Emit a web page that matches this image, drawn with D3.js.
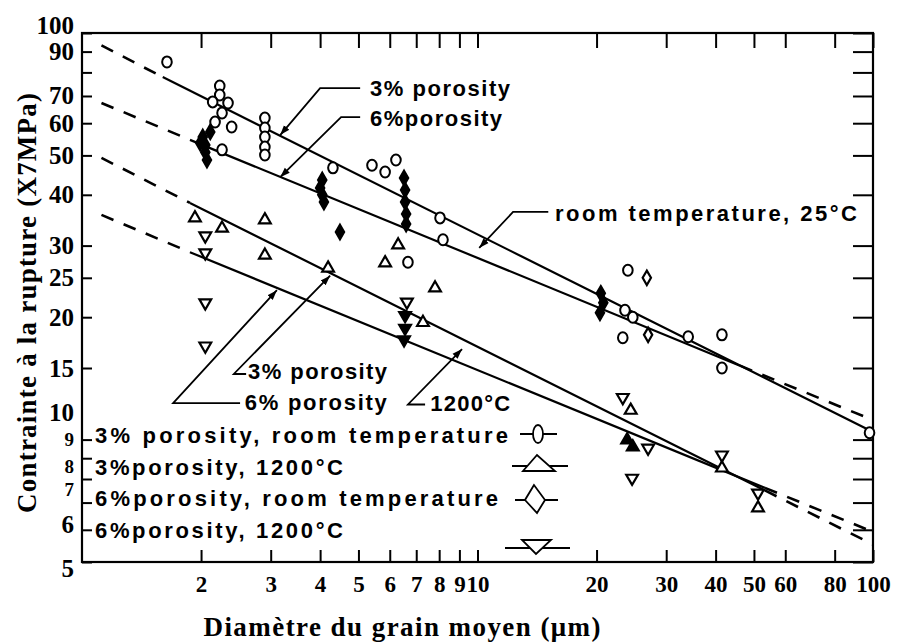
<!DOCTYPE html>
<html>
<head>
<meta charset="utf-8">
<title>Contrainte à la rupture / diamètre du grain</title>
<script src="https://cdn.jsdelivr.net/npm/d3@7/dist/d3.min.js"></script>
<style>
  body { margin: 0; background: #fff; }
  svg { display: block; }
  .tick text { font-family: "Liberation Serif", "Times New Roman", serif; font-weight: bold; fill: #000; }
  .tick line { stroke: #000; stroke-width: 2; }
  .note { font-family: "Liberation Sans", Arial, sans-serif; font-weight: bold; font-size: 22px; fill: #000; }
  .title { font-family: "Liberation Serif", "Times New Roman", serif; font-weight: bold; font-size: 27px; fill: #000; }
</style>
</head>
<body>
<script>
// Grain diameter (um) on x, rupture stress (x7 MPa) on y, both on log scales.
var xTicks = [2, 3, 4, 5, 6, 7, 8, 9, 10, 20, 30, 40, 50, 60, 80, 100];
var xTickLabels = [2, 3, 4, 5, 6, 7, 8, 9, 10, 20, 30, 40, 50, 60, 80, 100];
var yTicks = [100, 90, 80, 70, 60, 50, 40, 30, 25, 20, 15, 10, 9, 8, 7, 6, 5];
var yTickLabels = [100, 90, 70, 60, 50, 40, 30, 25, 20, 15, 10, 9, 8, 7, 6, 5];

// 3% porosity, room temperature (open circles)
var rt3Points = [[1.64, 84.9], [2.23, 74.1], [2.23, 70.4], [2.14, 67.7], [2.34, 67.3],
    [2.26, 63.6], [2.17, 60.4], [2.39, 58.7], [2.26, 51.6], [2.90, 61.8], [2.90, 58.4],
    [2.90, 55.5], [2.90, 52.4], [2.90, 50.1], [4.31, 46.6], [5.41, 47.3], [5.84, 45.5],
    [6.22, 48.7], [8.04, 35.1], [8.18, 31.0], [6.67, 27.3], [24.0, 26.1], [23.6, 20.8],
    [24.7, 20.0], [23.3, 17.8], [34.1, 17.9], [41.5, 18.1], [41.5, 15.0], [98, 10.4]];
// 6% porosity, room temperature (diamonds); the stack ones sit on top of each other
var rt6Points = [[26.8, 25.0], [27.0, 18.1]];
var rt6Stack = [[2.02, 55.5], [2.05, 53.0], [2.05, 50.9], [2.07, 48.7], [1.99, 53.6],
    [2.11, 57.1], [4.05, 43.5], [4.00, 41.6], [4.05, 40.0], [4.09, 38.4], [4.49, 32.4],
    [6.52, 44.0], [6.56, 41.1], [6.56, 38.4], [6.60, 35.9], [6.60, 33.9],
    [20.5, 22.9], [20.8, 21.7], [20.4, 20.5]];
// 3% porosity, 1200°C (triangles)
var t3Points = [[1.93, 35.1], [2.26, 33.1], [2.90, 34.7], [2.90, 28.4], [4.19, 26.4],
    [6.30, 30.1], [5.84, 27.2], [7.81, 23.6], [7.28, 19.4], [24.4, 11.8], [41.5, 8.51],
    [51.2, 6.79]];
var t3Stack = [[23.9, 9.98], [24.7, 9.59]];
// 6% porosity, 1200°C (inverted triangles)
var t6Points = [[2.05, 31.7], [2.05, 28.8], [2.05, 21.7], [2.05, 17.0], [6.63, 21.8],
    [23.3, 12.7], [27.0, 9.53], [24.6, 8.04], [41.5, 9.17], [51.2, 7.39]];
var t6Stack = [[6.56, 20.2], [6.56, 18.8], [6.52, 17.6]];

// Fitted lines: the solid part, then the dashed extrapolations.
var rt3Fit = [[1.60, 77.9], [100, 10.44]];
var rt3Ext = [[[1.12, 93.2], [1.60, 77.9]]];
var rt6Fit = [[1.875, 54.6], [46.1, 15.2]];
var rt6Ext = [[[1.12, 67.3], [1.875, 54.6]], [[46.1, 15.2], [100, 11.17]]];
var t3Fit = [[1.875, 38.2], [53.3, 7.50]];
var t3Ext = [[[1.12, 49.3], [1.875, 38.2]], [[53.3, 7.50], [100, 5.52]]];
var t6Fit = [[1.875, 28.9], [53.3, 7.61]];
var t6Ext = [[[1.12, 35.7], [1.875, 28.9]], [[53.3, 7.61], [100, 5.93]]];

var legendLabels = ["3% porosity, room temperature", "3%porosity, 1200°C",
    "6%porosity, room temperature", "6%porosity, 1200°C"];

// Page and plot box.
var svg_width = 899;
var svg_height = 642;
var margin = {top: 33, right: 26, bottom: 80, left: 82};
var chartWidth = svg_width - margin.left - margin.right;
var chartHeight = svg_height - margin.top - margin.bottom;

var x = d3.scaleLog().domain([1, 100]).range([0, chartWidth]);
var y = d3.scaleLog().domain([5, 100]).range([chartHeight, 0]);

var root = d3.select("body").append("svg")
    .attr("width", svg_width)
    .attr("height", svg_height);

root.append("defs").append("marker")
    .attr("id", "arrow")
    .attr("viewBox", "0 0 10 10")
    .attr("refX", 10).attr("refY", 5)
    .attr("markerWidth", 10).attr("markerHeight", 10)
    .attr("markerUnits", "userSpaceOnUse")
    .attr("orient", "auto")
    .append("path")
    .attr("d", "M0,1.5L10,5L0,8.5Z")
    .attr("fill", "#000");

var svg = root.append("g")
    .attr("transform", "translate(" + margin.left + "," + margin.top + ")");

// Axes: ticks point inward on all four sides.
var xb = svg.append("g")
    .attr("transform", "translate(0," + chartHeight + ")")
    .call(d3.axisBottom(x).tickValues(xTicks)
        .tickFormat(function(d) { return xTickLabels.indexOf(d) >= 0 ? d : ""; })
        .tickSizeInner(-12).tickSizeOuter(0).tickPadding(14));
xb.selectAll("text").style("font-size", "23px");

svg.append("g")
    .call(d3.axisTop(x).tickValues(xTicks).tickFormat("")
        .tickSizeInner(-15).tickSizeOuter(0));

svg.append("g")
    .attr("transform", "translate(" + chartWidth + ",0)")
    .call(d3.axisRight(y).tickValues(yTicks).tickFormat("")
        .tickSizeInner(-20).tickSizeOuter(0));

// the scanned labels of the lower decade sit a bit off their ticks
var yLabelShift = {100: -8, 10: -27, 9: -19, 8: -13, 7: -13, 6: -5, 5: 6};
var ySmall = [9, 8, 7];
var yl = svg.append("g")
    .call(d3.axisLeft(y).tickValues(yTicks)
        .tickFormat(function(d) { return yTickLabels.indexOf(d) >= 0 ? d : ""; })
        .tickSizeInner(-10).tickSizeOuter(0).tickPadding(8));
yl.selectAll(".tick text")
    .attr("y", function(d) { return yLabelShift[d] || 0; })
    .style("font-size", function(d) { return ySmall.indexOf(d) >= 0 ? "19px" : "25px"; });

svg.selectAll(".domain").remove();

svg.append("rect")
    .attr("width", chartWidth)
    .attr("height", chartHeight)
    .attr("fill", "none")
    .attr("stroke", "#000")
    .attr("stroke-width", 2.2);

// Fitted lines.
var line = d3.line()
    .x(function(d) { return x(d[0]); })
    .y(function(d) { return y(d[1]); });

[rt3Fit, rt6Fit, t3Fit, t6Fit].forEach(function(seg) {
    svg.append("path")
        .attr("d", line(seg))
        .attr("fill", "none")
        .attr("stroke", "#000")
        .attr("stroke-width", 2.2);
});
[rt3Ext, rt6Ext, t3Ext, t6Ext].forEach(function(parts) {
    parts.forEach(function(seg) {
        svg.append("path")
            .attr("d", line(seg))
            .attr("fill", "none")
            .attr("stroke", "#000")
            .attr("stroke-width", 2.6)
            .attr("stroke-dasharray", "13,11");
    });
});

// Markers.
var triangle = d3.symbol().type(d3.symbolTriangle).size(60);
var diamond = d3.symbol().type(d3.symbolDiamond).size(60);

function drawSymbols(points, path, rotate, fill) {
    svg.append("g")
        .selectAll("path")
        .data(points)
        .enter()
        .append("path")
        .attr("d", path)
        .attr("transform", function(d) {
            return "translate(" + x(d[0]) + "," + y(d[1]) + ")" + (rotate ? " rotate(180)" : "");
        })
        .attr("fill", fill)
        .attr("stroke", "#000")
        .attr("stroke-width", 2.2);
}

svg.append("g")
    .selectAll("ellipse")
    .data(rt3Points)
    .enter()
    .append("ellipse")
    .attr("cx", function(d) { return x(d[0]); })
    .attr("cy", function(d) { return y(d[1]); })
    .attr("rx", 4.8)
    .attr("ry", 5.5)
    .attr("fill", "#fff")
    .attr("stroke", "#000")
    .attr("stroke-width", 2);

drawSymbols(rt6Points, diamond, false, "#fff");
drawSymbols(rt6Stack, diamond, false, "#000");
drawSymbols(t3Points, triangle, false, "#fff");
drawSymbols(t3Stack, triangle, false, "#000");
drawSymbols(t6Points, triangle, true, "#fff");
drawSymbols(t6Stack, triangle, true, "#000");

// Annotations with leader arrows (given in data units).
var notes = [
    {text: "3% porosity", at: [5.35, 73.2], len: 140, leader: [[5.05, 73.2], [4.0, 73.2], [3.17, 56.1]]},
    {text: "6%porosity", at: [5.35, 61.8], len: 132, leader: [[5.05, 62.1], [4.52, 62.1], [3.17, 44.2]]},
    {text: "room temperature, 25°C", at: [15.7, 36.1], len: 302, leader: [[15.1, 36.3], [12.3, 36.3], [10.1, 29.6]]},
    {text: "3% porosity", at: [2.63, 14.7], len: 139, leader: [[2.60, 14.5], [2.42, 14.5], [4.24, 25.3]]},
    {text: "6% porosity", at: [2.58, 12.4], len: 142, leader: [[2.51, 12.3], [1.70, 12.3], [3.11, 23.3]]},
    {text: "1200°C", at: [7.59, 12.3], len: 80, leader: [[7.37, 12.2], [6.67, 12.2], [9.14, 16.7]]}
];

notes.forEach(function(n) {
    svg.append("path")
        .attr("d", line(n.leader))
        .attr("fill", "none")
        .attr("stroke", "#000")
        .attr("stroke-width", 1.8)
        .attr("marker-end", "url(#arrow)");
    svg.append("text")
        .attr("class", "note")
        .attr("x", x(n.at[0]))
        .attr("y", y(n.at[1]))
        .attr("dy", "0.36em")
        .attr("textLength", n.len)
        .attr("lengthAdjust", "spacing")
        .text(n.text);
});

// Legend (inside the plot, lower left).
var legendRows = [435, 467, 498, 530];
var legendLen = [413, 248, 403, 248];
legendLabels.forEach(function(label, i) {
    root.append("text")
        .attr("class", "note")
        .attr("x", 95)
        .attr("y", legendRows[i])
        .attr("dy", "0.36em")
        .attr("textLength", legendLen[i])
        .attr("lengthAdjust", "spacing")
        .text(label);
});

var lg = root.append("g")
    .attr("fill", "#fff")
    .attr("stroke", "#000")
    .attr("stroke-width", 1.8);
lg.append("line").attr("x1", 520).attr("x2", 557).attr("y1", 434).attr("y2", 434);
lg.append("ellipse").attr("cx", 538).attr("cy", 434).attr("rx", 5).attr("ry", 9);
lg.append("line").attr("x1", 512).attr("x2", 568).attr("y1", 466).attr("y2", 466);
lg.append("path").attr("d", "M523,471L537,455L555,471Z");
lg.append("line").attr("x1", 515).attr("x2", 558).attr("y1", 500).attr("y2", 500);
lg.append("path").attr("d", "M534,485L525,500L537,513L545,500Z");
lg.append("line").attr("x1", 505).attr("x2", 570).attr("y1", 548).attr("y2", 548);
lg.append("path").attr("d", "M522,540L551,540L536,554Z");

// Axis titles.
root.append("text")
    .attr("class", "title")
    .attr("transform", "translate(36,303) rotate(-90)")
    .attr("text-anchor", "middle")
    .attr("textLength", 420)
    .attr("lengthAdjust", "spacing")
    .text("Contrainte à la rupture (X7MPa)");

root.append("text")
    .attr("class", "title")
    .attr("x", 402)
    .attr("y", 636)
    .attr("text-anchor", "middle")
    .attr("textLength", 397)
    .attr("lengthAdjust", "spacing")
    .text("Diamètre du grain moyen (μm)");
</script>
</body>
</html>
